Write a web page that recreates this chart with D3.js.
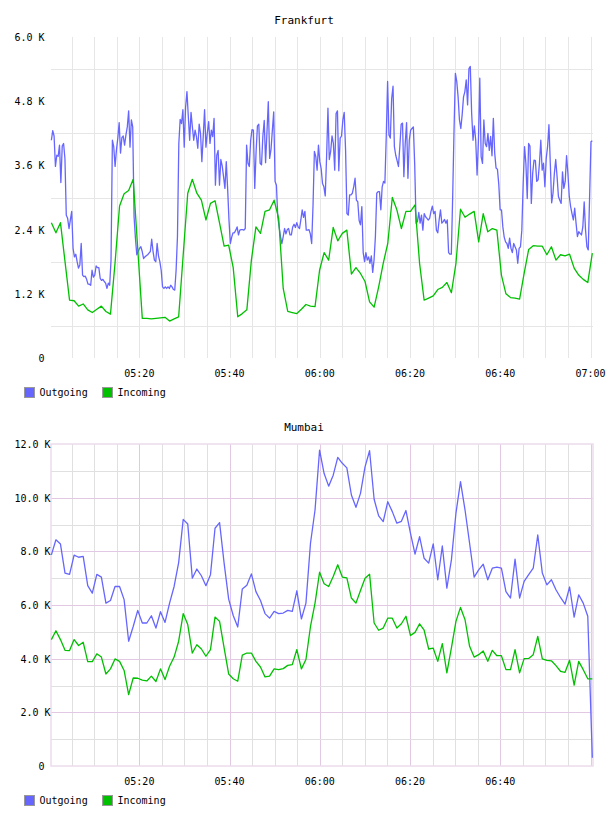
<!DOCTYPE html>
<html>

<head>
  <title>Traffic</title>
  <script src="https://d3js.org/d3.v7.min.js"></script>
  <style>
    body {
      margin: 0;
      background: #fff;
      font-family: "DejaVu Sans Mono", monospace;
    }

    .title {
      font-size: 11px;
      fill: #000;
      text-anchor: middle;
    }

    .tick-label {
      font-size: 10px;
      fill: #000;
    }

    .legend-label {
      font-size: 10px;
      fill: #000;
    }
  </style>
</head>

<body>
  <svg id="chart" width="608" height="816"></svg>

  <script>
    // Series names and colours
    const seriesNames = ["Outgoing", "Incoming"];
    const seriesColors = ["#6666ff", "#00c000"];

    // Tick labels on the time axis
    const timeTicks = ["05:20", "05:40", "06:00", "06:20", "06:40", "07:00"];

    // Frankfurt (K), outgoing sampled densely, incoming once a minute
    const frankfurtOut = [
      4.07, 4.25, 4.15, 3.58, 3.79, 3.77, 3.98, 3.28, 3.96, 4.01,
      3.73, 2.67, 2.61, 2.42, 2.58, 2.74, 2.05, 1.89, 1.94, 1.80,
      1.68, 1.74, 2.14, 1.55, 1.52, 1.53, 1.47, 1.38, 1.38, 1.36,
      1.64, 1.51, 1.55, 1.72, 1.69, 1.69, 1.49, 1.45, 1.47, 1.43,
      1.40, 1.30, 1.40, 1.36, 1.83, 4.07, 3.95, 3.58, 3.89, 4.11,
      4.40, 3.83, 4.12, 4.15, 3.98, 4.17, 4.32, 4.62, 3.94, 4.45,
      4.32, 2.64, 2.24, 1.93, 1.99, 2.05, 2.08, 1.99, 1.86, 1.89,
      1.91, 1.93, 1.96, 1.99, 2.22, 1.99, 1.83, 1.80, 2.14, 1.91,
      1.80, 1.64, 1.33, 1.30, 1.33, 1.30, 1.33, 1.30, 1.36, 1.33,
      1.28, 1.27, 1.64, 2.27, 4.01, 4.46, 4.38, 4.64, 3.94, 4.69,
      4.98, 4.52, 4.07, 4.59, 4.32, 4.07, 4.26, 4.14, 3.92, 4.37,
      4.20, 3.67, 4.14, 4.64, 3.94, 4.20, 4.42, 4.01, 4.26, 4.14,
      4.48, 3.23, 3.79, 3.88, 3.23, 3.71, 3.59, 3.39, 3.17, 3.67,
      3.17, 2.58, 2.14, 2.26, 2.34, 2.34, 2.39, 2.45, 2.30, 2.39,
      2.40, 2.40, 2.39, 2.42, 3.98, 3.64, 3.58, 4.07, 4.27, 4.26,
      3.17, 3.86, 4.34, 4.37, 3.64, 3.61, 4.15, 4.44, 3.65, 4.21,
      4.79, 3.73, 3.90, 4.26, 4.60, 3.30, 3.23, 2.64, 2.45, 2.27,
      2.14, 2.27, 2.42, 2.32, 2.40, 2.42, 2.30, 2.30, 2.45, 2.50,
      2.44, 2.53, 2.45, 2.42, 2.58, 2.77, 2.63, 2.74, 2.39, 2.39,
      2.40, 2.32, 2.14, 2.86, 3.86, 3.77, 3.51, 3.98, 3.67, 3.54,
      3.26, 3.20, 3.03, 3.76, 4.67, 3.71, 3.86, 4.15, 4.01, 3.51,
      4.57, 4.62, 3.50, 4.11, 4.15, 4.45, 4.59, 3.89,
      2.70, 2.67, 3.05, 3.05, 3.08, 3.20, 3.36, 2.95, 2.92, 2.57,
      2.49, 2.83, 1.97, 1.80, 1.97, 1.83, 1.89, 1.77, 1.91, 1.60,
      1.83, 2.27, 3.08, 3.11, 3.11, 2.77, 3.20, 3.30, 3.27, 4.14,
      5.17, 4.17, 4.11, 4.85, 5.08, 3.95, 3.79, 3.69, 3.58, 3.95,
      4.37, 4.39, 3.39, 4.01, 4.40, 3.36, 4.07, 4.26, 4.29, 4.32,
      3.61, 2.52, 2.55, 2.72, 2.52, 2.67, 2.39, 2.70, 2.64, 2.61,
      2.58, 2.61, 2.74, 2.84, 2.70, 2.74, 2.39, 2.34, 2.58, 2.77,
      2.52, 2.55, 2.59, 2.52, 2.58, 1.97, 1.94, 1.94, 3.02, 4.26,
      5.32, 5.17, 4.88, 4.45, 4.29, 4.55, 4.88, 4.98, 5.20, 4.73,
      5.41, 5.45, 4.57, 4.07, 4.34, 4.07, 3.42, 4.07, 5.23, 3.76,
      3.64, 4.45, 4.01, 3.95, 4.20, 3.88, 4.14, 3.78, 4.48, 3.83,
      3.55, 3.53, 3.25, 2.77, 2.77, 2.45, 2.26, 2.17, 2.14, 2.05,
      2.24, 2.05, 1.97, 2.14, 2.08, 2.02, 1.77, 2.05, 2.08, 2.39,
      3.26, 3.95, 3.64, 2.98, 4.01, 3.96, 2.89, 3.45, 3.70, 3.69,
      3.30, 3.33, 3.64, 4.07, 3.51, 3.64, 3.20, 3.73, 3.95, 4.36,
      3.64, 2.90, 3.08, 3.45, 3.71, 3.39, 3.02, 2.95, 2.89, 3.48,
      3.17, 3.30, 3.78, 3.45, 3.02, 2.83, 2.70, 2.58, 2.80, 2.52,
      2.27, 2.36, 2.33, 2.30, 2.45, 2.92, 2.39, 2.08, 2.02, 3.02,
      4.04, 4.06
    ];

    const frankfurtIn = [
      2.53, 2.34, 2.53, 1.80, 1.08, 1.07, 0.97, 1.01, 0.90, 0.85,
      0.91, 0.97, 0.87, 0.82, 1.77, 2.84, 3.07, 3.13, 3.34, 2.04,
      0.74, 0.74, 0.73, 0.74, 0.75, 0.76, 0.69, 0.73, 0.77, 1.93,
      3.08, 3.34, 3.08, 2.95, 2.58, 2.89, 2.94, 2.52, 2.09, 2.11,
      1.69, 0.77, 0.83, 0.90, 1.83, 2.45, 2.33, 2.74, 2.77, 2.95,
      2.61, 1.30, 0.87, 0.85, 0.83, 0.91, 1.00, 0.97, 0.96, 1.64,
      1.97, 1.83, 2.44, 2.19, 2.33, 2.39, 1.57, 1.69, 1.58, 1.43,
      1.05, 0.95, 1.33, 1.77, 2.14, 3.00, 2.77, 2.42, 2.74, 2.74,
      2.86, 1.77, 1.08, 1.12, 1.16, 1.28, 1.32, 1.41, 1.22, 1.77,
      2.78, 2.63, 2.69, 2.74, 2.17, 2.70, 2.36, 2.42, 2.39, 1.55,
      1.20, 1.13, 1.12, 1.10, 1.58, 2.03, 2.10, 2.09, 2.09, 1.93,
      2.08, 1.83, 1.93, 1.91, 1.94, 1.68, 1.55, 1.47, 1.41, 1.96
    ];

    // Mumbai (K), once a minute
    const mumbaiOut = [
      7.87, 8.43, 8.27, 7.19, 7.14, 7.86, 7.78, 7.81, 6.72, 6.44,
      7.14, 7.04, 6.07, 6.17, 6.69, 6.69, 6.20, 4.65, 5.20, 5.80,
      5.33, 5.33, 5.60, 5.14, 5.75, 5.35, 6.07, 6.69, 7.58, 9.19,
      9.02, 7.00, 7.34, 7.09, 6.72, 7.13, 8.86, 9.07, 7.56, 6.22,
      5.61, 5.18, 6.60, 6.74, 7.16, 6.50, 6.17, 5.68, 5.51, 5.76,
      5.68, 5.70, 5.80, 5.76, 6.53, 5.48, 6.07, 8.30, 9.54, 11.77,
      10.90, 10.43, 10.84, 11.50, 11.28, 11.11, 10.10, 9.64, 10.16, 11.15,
      11.75, 9.94, 9.32, 9.11, 9.85, 9.48, 9.05, 9.12, 9.52, 8.67,
      7.90, 8.55, 7.74, 7.56, 8.28, 6.94, 8.20, 6.63, 7.68, 9.42,
      10.60, 9.54, 8.30, 7.04, 7.31, 7.52, 6.94, 7.37, 7.41, 7.37,
      6.50, 6.26, 7.71, 6.26, 6.88, 7.13, 7.37, 8.61, 7.19, 6.75,
      6.94, 6.57, 6.28, 6.03, 6.67, 5.55, 6.38, 6.07, 5.58, 0.31
    ];

    const mumbaiIn = [
      4.71, 5.04, 4.71, 4.31, 4.30, 4.71, 4.49, 4.61, 3.89, 3.89,
      4.18, 4.06, 3.43, 3.62, 3.99, 3.90, 3.56, 2.66, 3.28, 3.27,
      3.20, 3.17, 3.35, 3.15, 3.62, 3.22, 3.72, 4.06, 4.65, 5.68,
      5.27, 4.21, 4.52, 4.36, 4.09, 4.34, 5.55, 5.39, 4.40, 3.43,
      3.25, 3.16, 4.13, 4.21, 4.21, 3.90, 3.69, 3.32, 3.35, 3.62,
      3.59, 3.63, 3.75, 3.78, 4.34, 3.62, 3.97, 5.20, 6.07, 7.22,
      6.79, 6.69, 7.06, 7.50, 7.04, 7.01, 6.26, 6.07, 6.54, 7.00,
      7.15, 5.33, 5.06, 5.14, 5.51, 5.51, 5.14, 5.30, 5.58, 4.86,
      4.98, 5.30, 5.06, 4.36, 4.39, 3.90, 4.56, 3.47, 4.40, 5.39,
      5.91, 5.45, 4.46, 4.06, 4.15, 4.29, 3.90, 4.31, 4.11, 4.11,
      3.59, 3.59, 4.34, 3.47, 4.00, 4.01, 4.15, 4.83, 3.99, 3.94,
      3.92, 3.74, 3.53, 3.49, 3.94, 3.01, 3.90, 3.59, 3.25, 3.25
    ];

    // Y tick values (K)
    const frankfurtTicks = [0, 1.2, 2.4, 3.6, 4.8, 6.0];
    const frankfurtGrid = [0.6, 1.8, 3.0, 4.2, 5.4];
    const mumbaiTicks = [0, 2, 4, 6, 8, 10, 12];
    const mumbaiGrid = [1, 3, 5, 7, 9, 11];

    const parseTime = d3.timeParse("%H:%M:%S");
    const parseHM = d3.timeParse("%H:%M");
    const firstSample = parseTime("05:00:30");
    const lastSample = parseTime("07:00:24");

    // Spread samples evenly between first and last sample time
    function withTimes(values) {
      const span = lastSample - firstSample;
      return values.map((v, i) => ({
        time: new Date(+firstSample + (span * i) / (values.length - 1)),
        value: v,
      }));
    }

    const svg = d3.select("#chart");

    const x = d3
      .scaleTime()
      .domain([parseTime("05:00:25"), parseTime("07:00:33")])
      .range([51, 593]);

    const fiveMinutes = x.ticks(d3.timeMinute.every(5));

    function kFormat(d) {
      return d === 0 ? "0" : d3.format(".1f")(d) + " K";
    }

    function drawPanel(opts) {
      const g = svg.append("g");
      const y = d3.scaleLinear().domain([0, opts.max]).range([opts.bottom, opts.top]);

      // title
      g.append("text")
        .attr("class", "title")
        .attr("x", 304)
        .attr("y", opts.top - 13)
        .text(opts.title);

      // vertical grid every 5 minutes
      g.selectAll(".vgrid")
        .data(fiveMinutes)
        .enter()
        .append("line")
        .attr("x1", (d) => Math.round(x(d)) + 0.5)
        .attr("x2", (d) => Math.round(x(d)) + 0.5)
        .attr("y1", opts.top)
        .attr("y2", opts.bottom)
        .attr("stroke", (d) =>
          opts.majorColor && d.getMinutes() % 20 === 0 ? opts.majorColor : opts.gridColor
        )
        .attr("stroke-width", 1);

      // horizontal grid
      g.selectAll(".hgrid")
        .data(opts.grid)
        .enter()
        .append("line")
        .attr("x1", 51)
        .attr("x2", 593)
        .attr("y1", (d) => Math.round(y(d)) + 0.5)
        .attr("y2", (d) => Math.round(y(d)) + 0.5)
        .attr("stroke", opts.gridColor);

      if (opts.majorColor) {
        g.selectAll(".hmajor")
          .data(opts.ticks.filter((d) => d > 0 && d < opts.max))
          .enter()
          .append("line")
          .attr("x1", 51)
          .attr("x2", 593)
          .attr("y1", (d) => Math.round(y(d)) + 0.5)
          .attr("y2", (d) => Math.round(y(d)) + 0.5)
          .attr("stroke", opts.majorColor);

        g.append("rect")
          .attr("x", 51)
          .attr("y", opts.top)
          .attr("width", 542)
          .attr("height", opts.bottom - opts.top)
          .attr("fill", "none")
          .attr("stroke", "#ecdcec")
          .attr("stroke-width", 1.5);
      }

      // y labels
      g.selectAll(".ylabel")
        .data(opts.ticks)
        .enter()
        .append("text")
        .attr("class", "tick-label")
        .attr("text-anchor", "end")
        .attr("x", (d) => (d === 0 ? 44.5 : opts.labelRight))
        .attr("y", (d) => y(d) + 4)
        .text(kFormat);

      // x labels
      g.selectAll(".xlabel")
        .data(timeTicks.map(parseHM).filter((d) => x(d) < opts.xLabelMax))
        .enter()
        .append("text")
        .attr("class", "tick-label")
        .attr("text-anchor", "middle")
        .attr("x", (d) => x(d))
        .attr("y", opts.bottom + 19)
        .text(d3.timeFormat("%H:%M"));

      // lines
      const line = d3
        .line()
        .x((d) => x(d.time))
        .y((d) => y(d.value));

      opts.series.forEach((values, i) => {
        g.append("path")
          .datum(withTimes(values))
          .attr("fill", "none")
          .attr("stroke", seriesColors[i])
          .attr("stroke-width", 1.3)
          .attr("stroke-linejoin", "round")
          .attr("d", line);
      });

      // legend
      const legend = g
        .selectAll(".legend")
        .data(seriesNames)
        .enter()
        .append("g")
        .attr("transform", (d, i) => `translate(${[24.5, 102.5][i]}, ${opts.bottom + 29.5})`);

      legend
        .append("rect")
        .attr("width", 10)
        .attr("height", 10)
        .attr("fill", (d, i) => seriesColors[i])
        .attr("stroke", "#999");

      legend
        .append("text")
        .attr("class", "legend-label")
        .attr("x", 15)
        .attr("y", 8.5)
        .text((d) => d);
    }

    drawPanel({
      title: "Frankfurt",
      top: 37,
      bottom: 358,
      max: 6,
      ticks: frankfurtTicks,
      grid: frankfurtGrid,
      gridColor: "#e6e6e6",
      majorColor: null,
      labelRight: 44.5,
      xLabelMax: 600,
      series: [frankfurtOut, frankfurtIn],
    });

    drawPanel({
      title: "Mumbai",
      top: 444,
      bottom: 766,
      max: 12,
      ticks: mumbaiTicks,
      grid: mumbaiGrid,
      gridColor: "#e0e0e0",
      majorColor: "#e2c8e2",
      labelRight: 50.5,
      xLabelMax: 585,
      series: [mumbaiOut, mumbaiIn],
    });
  </script>
</body>

</html>
